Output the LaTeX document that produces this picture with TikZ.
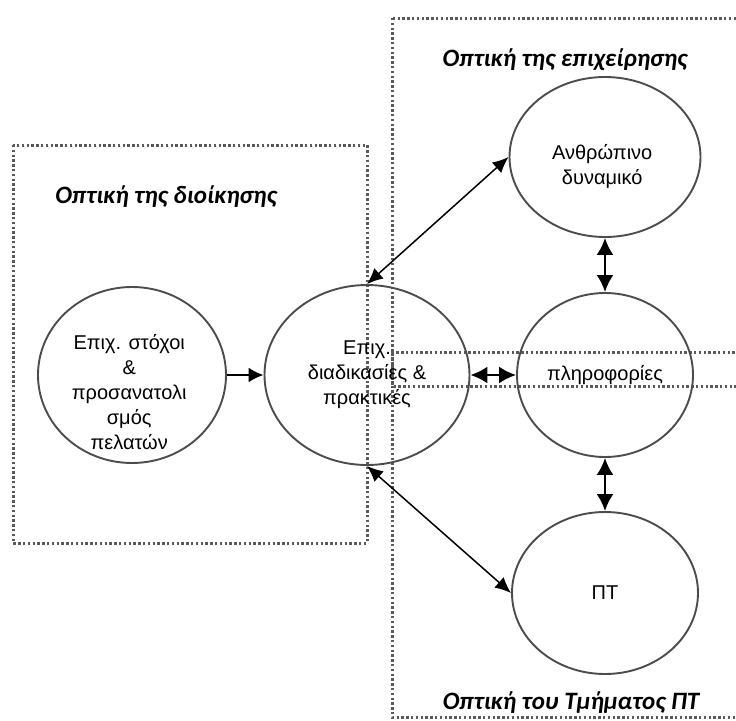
\documentclass[tikz,border=0pt]{standalone}
\usepackage{fontspec}
\setmainfont{Liberation Sans}
\newfontfamily\viewfont{Carlito}
\usepackage{tikz}
\usetikzlibrary{shapes.geometric, arrows.meta}
\tikzstyle{bubble} = [ellipse, draw=black!70, line width=1.9pt, inner sep=0pt, align=center, font=\fontsize{20}{25}\selectfont]
\tikzstyle{view} = [draw=black!65, line width=3pt, dash pattern=on 2.4pt off 2.4pt]
\tikzstyle{viewlabel} = [font=\viewfont\bfseries\itshape\fontsize{25}{30}\selectfont]
\tikzstyle{arrow} = [line width=2.3pt, -{Latex[length=15pt,width=15pt]}]
\tikzstyle{biarrow} = [line width=2.3pt, {Latex[length=17pt,width=17pt]}-{Latex[length=17pt,width=17pt]}]
\tikzstyle{longarrow} = [line width=1.5pt, {Latex[length=16pt,width=14pt]}-{Latex[length=16pt,width=14pt]}]
\newcommand{\dropped}[2]{\raisebox{-#1}[0pt][0pt]{\begin{tabular}{@{}c@{}}#2\end{tabular}}}

\begin{document}
\begin{tikzpicture}[x=1pt, y=-1pt, node distance=235pt]
\useasboundingbox (0,0) rectangle (736,720);

% views
\draw [view] (13,145) rectangle (367,543);
\draw [view] (392,18) rectangle (760,386);
\draw [view] (392,352) rectangle (760,717);

\node (mgmt_view) [viewlabel] at (166,197) {Οπτική της διοίκησης};
\node (biz_view) [viewlabel] at (565,60) {Οπτική της επιχείρησης};
\node (it_view) [viewlabel] at (571,703) {Οπτική του Τμήματος ΠΤ};

\node (goals) [bubble, minimum width=188pt, minimum height=176pt] at (132,375) {
	\dropped{25pt}{Επιχ. στόχοι\\\&\\προσανατολι\\σμός\\πελατών}
};

\node (proc) [bubble, minimum width=205pt, minimum height=180pt, right of=goals] {
	Επιχ.\\
	διαδικασίες \&\\
	πρακτικές
};

\node (info) [bubble, minimum width=176pt, minimum height=164pt, right of=proc, xshift=3pt] {πληροφορίες};

\node (human) [bubble, minimum width=191pt, minimum height=160pt, above of=info, yshift=-17pt] {
	\dropped{15pt}{Ανθρώπινο\\δυναμικό}
};

\node (it) [bubble, minimum width=186pt, minimum height=162pt, below of=info, yshift=17pt] {ΠΤ};

\draw [arrow] (goals) -- (proc);
\draw [biarrow] (proc) -- (info);
\draw [biarrow] (human) -- (info);
\draw [biarrow] (info) -- (it);
\draw [longarrow] (proc.north) -- (human.west);
\draw [longarrow] (proc.south) -- (it.west);

\end{tikzpicture}
\end{document}
